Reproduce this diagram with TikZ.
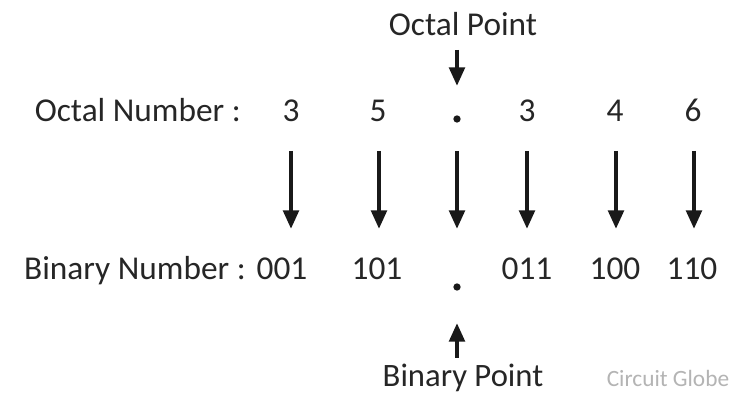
\documentclass[tikz,border=0pt]{standalone}
\usepackage{fontspec}
\setmainfont{Carlito}
\usetikzlibrary{arrows.meta}
\definecolor{wm}{HTML}{B4B4B4}
\tikzset{
  lbl/.style={inner sep=0pt, anchor=base, font=\fontsize{25}{29}\selectfont, text=black!85},
  small/.style={inner sep=0pt, anchor=base, font=\fontsize{17.5}{20}\selectfont, text=wm},
  pt/.style={circle, fill=black!90, inner sep=0pt, minimum size=5.5pt},
  arr/.style={line width=3.2pt, -{Triangle[width=11.5pt,length=14pt]}, black!90}
}
\begin{document}
\begin{tikzpicture}[x=0.75pt,y=-0.75pt]
\fill[white] (0,0) rectangle (750,398);
\useasboundingbox (0,0) rectangle (750,398);
% top label
\node[lbl] (op) at (463,36) {Octal Point};
% octal row
\node[lbl, anchor=base east] (ol) at (241,122) {Octal Number :};
\node[lbl] (o1) at (291,122) {3};
\node[lbl] (o2) at (378,122) {5};
\node[pt] (o3) at (457,119) {};
\node[lbl] (o4) at (527,122) {3};
\node[lbl] (o5) at (615,122) {4};
\node[lbl] (o6) at (693,122) {6};
% binary row
\node[lbl, anchor=base east] (bl) at (246,280) {Binary Number :};
\node[lbl] (b1) at (282,280) {001};
\node[lbl] (b2) at (377,280) {101};
\node[pt] (b3) at (457,287) {};
\node[lbl] (b4) at (527,280) {011};
\node[lbl] (b5) at (615,280) {100};
\node[lbl] (b6) at (692,280) {110};
% bottom labels
\node[lbl, font=\fontsize{24.5}{28}\selectfont] (bp) at (463,387) {Binary Point};
\node[small] (cg) at (668,387) {Circuit Globe};
% coordinates for arrows
\coordinate (t1) at (291,151); \coordinate (e1) at (291,229);
\coordinate (t2) at (379,151); \coordinate (e2) at (379,229);
\coordinate (t3) at (457,151); \coordinate (e3) at (457,229);
\coordinate (t4) at (527,151); \coordinate (e4) at (527,229);
\coordinate (t5) at (616,151); \coordinate (e5) at (616,229);
\coordinate (t6) at (694,151); \coordinate (e6) at (694,229);
\foreach \i in {1,...,6}{\draw[arr] (t\i) -- (e\i);}
% point arrows
\coordinate (opa) at (457,50); \coordinate (opb) at (457,86);
\draw[arr] (opa) -- (opb);
\coordinate (bpa) at (457,358); \coordinate (bpb) at (457,323);
\draw[arr] (bpa) -- (bpb);
\end{tikzpicture}
\end{document}
